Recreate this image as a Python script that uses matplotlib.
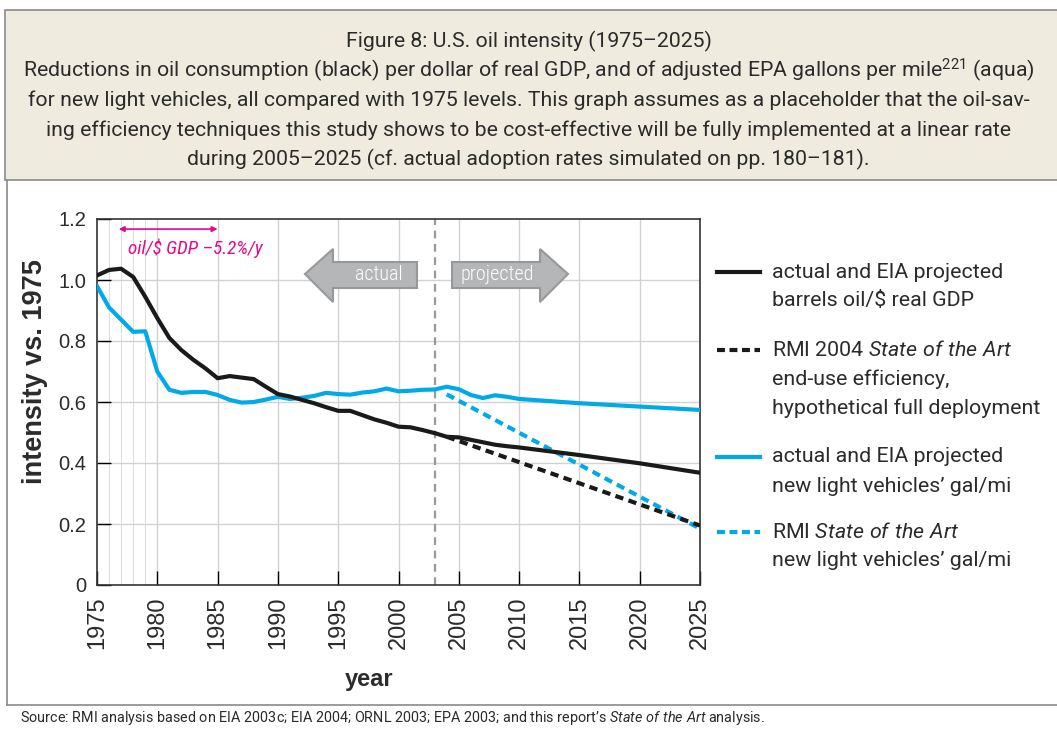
import numpy as np
import matplotlib
matplotlib.use("Agg")
import matplotlib.pyplot as plt
from matplotlib.lines import Line2D
from matplotlib.patches import Rectangle, Polygon

# ---- data ----
years = [1975, 1976, 1977, 1978, 1979, 1980, 1981, 1982, 1983, 1984,
         1985, 1986, 1987, 1988, 1989, 1990, 1991, 1992, 1993, 1994,
         1995, 1996, 1997, 1998, 1999, 2000, 2001, 2002, 2003, 2004,
         2005, 2006, 2007, 2008, 2009, 2010, 2015, 2020, 2025]

oil_per_gdp = [1.015, 1.033, 1.037, 1.010, 0.945, 0.875, 0.810, 0.770, 0.738, 0.710,
               0.678, 0.685, 0.680, 0.675, 0.650, 0.626, 0.618, 0.607, 0.596, 0.583,
               0.571, 0.571, 0.557, 0.543, 0.532, 0.519, 0.517, 0.508, 0.498, 0.486,
               0.484, 0.476, 0.468, 0.460, 0.455, 0.451, 0.426, 0.399, 0.368]

gal_per_mile = [0.980, 0.910, 0.870, 0.830, 0.832, 0.700, 0.640, 0.630, 0.633, 0.633,
                0.623, 0.607, 0.598, 0.600, 0.608, 0.617, 0.610, 0.614, 0.620, 0.630,
                0.626, 0.624, 0.631, 0.635, 0.644, 0.635, 0.637, 0.640, 0.641, 0.650,
                0.642, 0.623, 0.613, 0.622, 0.617, 0.610, 0.596, 0.585, 0.574]

rmi_years = [2004, 2025]
rmi_oil = [0.486, 0.195]
rmi_gal = [0.625, 0.185]

split_year = 2003
rate_span = [1976.8, 1985]

BLACK = "#1a1a1a"
AQUA = "#00a9e8"
PINK = "#e8068a"
TXT = "#2b2b2b"
ROB = ["Roboto", "DejaVu Sans"]
COND = ["Roboto Condensed", "DejaVu Sans"]

plt.rcParams["mathtext.fontset"] = "custom"
plt.rcParams["mathtext.rm"] = "Roboto"
plt.rcParams["mathtext.it"] = "Roboto:italic"
plt.rcParams["font.family"] = ["Liberation Sans", "DejaVu Sans"]

W, H = 1057, 730
fig = plt.figure(figsize=(W / 100, H / 100), dpi=100)

def fx(px):
    return px / W

def fy(py):
    return 1 - py / H

# ---- header box and frame ----
fig.patches.append(Rectangle((fx(5), fy(180)), 1.0, fy(10) - fy(180),
                             transform=fig.transFigure, facecolor="#efecdf",
                             edgecolor="#8a8a8a", lw=1.2, zorder=0))
fig.add_artist(Line2D([fx(7), fx(7)], [fy(180), fy(705)], color="#8a8a8a", lw=1.2))
fig.add_artist(Line2D([fx(7), 1.0], [fy(705), fy(705)], color="#8a8a8a", lw=1.2))

title_lines = [
    "Figure 8: U.S. oil intensity (1975–2025)",
    "Reductions in oil consumption (black) per dollar of real GDP, and of adjusted EPA gallons per mile$^{221}$ (aqua)",
    "for new light vehicles, all compared with 1975 levels. This graph assumes as a placeholder that the oil-sav-",
    "ing efficiency techniques this study shows to be cost-effective will be fully implemented at a linear rate",
    "during 2005–2025 (cf. actual adoption rates simulated on pp. 180–181).",
]
for i, line in enumerate(title_lines):
    fig.text(0.5, fy(41 + i * 29.7), line, ha="center", va="center",
             fontsize=15.3, color=TXT, family=ROB)

fig.text(fx(20), fy(718),
         r"Source: RMI analysis based on EIA 2003c; EIA 2004; ORNL 2003; EPA 2003; and this report’s $\it{State\ of\ the\ Art}$ analysis.",
         ha="left", va="center", fontsize=10.35, color=TXT, family=ROB)

# ---- axes ----
ax = fig.add_axes([fx(97), fy(585), fx(700) - fx(97), fy(219) - fy(585)])
ax.set_xlim(1975, 2025)
ax.set_ylim(0, 1.2)

ax.set_xticks(np.arange(1975, 2026, 5))
ax.set_yticks(np.arange(0, 1.21, 0.2))
ax.set_yticklabels(["0", "0.2", "0.4", "0.6", "0.8", "1.0", "1.2"])
ax.tick_params(direction="in", length=10, width=1, color="black", labelcolor=TXT)
ax.tick_params(axis="x", rotation=90, pad=8, labelsize=17)
ax.tick_params(axis="y", pad=8, labelsize=14.5)

for x in np.arange(1980, 2025, 5):
    ax.axvline(x, color="#d2d2d2", lw=1, zorder=0)
for x in range(1976, 1980):
    ax.axvline(x, color="#dddddd", lw=0.7, zorder=0)
for y in np.arange(0.2, 1.2, 0.2):
    ax.axhline(y, color="#d2d2d2", lw=1, zorder=0)

for s in ax.spines.values():
    s.set_color("#333333")
    s.set_linewidth(1.2)

ax.axvline(split_year, color="#999999", lw=1.6, dashes=(3.5, 2.5), zorder=1)

ax.plot(years, gal_per_mile, color=AQUA, lw=3, solid_joinstyle="round", zorder=3)
ax.plot(years, oil_per_gdp, color=BLACK, lw=3, solid_joinstyle="round", zorder=4)
ax.plot(rmi_years, rmi_gal, color=AQUA, lw=3, dashes=(2, 1.3), zorder=3)
ax.plot(rmi_years, rmi_oil, color=BLACK, lw=3, dashes=(2, 1.3), zorder=4)

ax.set_xlabel("year", fontsize=17, fontweight="bold", color=TXT)
ax.xaxis.set_label_coords((369 - 97) / 603, (585 - 668) / 366)
ax.set_ylabel("intensity vs. 1975", fontsize=19.5, fontweight="bold", color=TXT)
ax.yaxis.set_label_coords((48 - 97) / 603, (585 - 372) / 366)

# pink rate annotation
ax.annotate("", xy=(rate_span[1], 1.167), xytext=(rate_span[0], 1.167),
            arrowprops=dict(arrowstyle="<|-|>", color=PINK, lw=1.2,
                            mutation_scale=8, shrinkA=0, shrinkB=0))
ax.text(1977.6, 1.105, "oil/\\$ GDP –5.2%/y", color=PINK, fontsize=13.8,
        style="italic", ha="left", va="center", family=COND)

# gray direction arrows (axes fraction coordinates)
def axx(px):
    return (px - 97) / 603

def axy(py):
    return (585 - py) / 366

yc, bt, bb, ht, hb = axy(274), axy(262), axy(288), axy(249), axy(302)
left_arrow = [(axx(305), yc), (axx(333), ht), (axx(333), bt), (axx(417), bt),
              (axx(417), bb), (axx(333), bb), (axx(333), hb)]
right_arrow = [(axx(568), yc), (axx(540), ht), (axx(540), bt), (axx(452), bt),
               (axx(452), bb), (axx(540), bb), (axx(540), hb)]
for pts in (left_arrow, right_arrow):
    ax.add_patch(Polygon(pts, closed=True, transform=ax.transAxes,
                         facecolor="#b5b6b8", edgecolor="#97989a", lw=1.5, zorder=5))
ax.text(axx(379), yc, "actual", transform=ax.transAxes, ha="center", va="center",
        color="white", fontsize=14.5, family=COND, fontweight="light", zorder=6)
ax.text(axx(497), yc, "projected", transform=ax.transAxes, ha="center", va="center",
        color="white", fontsize=14.5, family=COND, fontweight="light", zorder=6)

# ---- legend (drawn beside the plot) ----
legend_items = [
    (BLACK, "-", ["actual and EIA projected", "barrels oil/\\$ real GDP"], 272),
    (BLACK, "--", [r"RMI 2004 $\it{State\ of\ the\ Art}$", "end-use efficiency,",
                   "hypothetical full deployment"], 350),
    (AQUA, "-", ["actual and EIA projected", "new light vehicles’ gal/mi"], 457),
    (AQUA, "--", [r"RMI $\it{State\ of\ the\ Art}$", "new light vehicles’ gal/mi"], 532),
]
for color, style, lines, ypx in legend_items:
    kw = dict(dashes=(1.9, 1.1)) if style == "--" else {}
    fig.add_artist(Line2D([fx(717), fx(760)], [fy(ypx), fy(ypx)], color=color,
                          lw=3, **kw))
    for j, t in enumerate(lines):
        fig.text(fx(772), fy(ypx + j * 29), t, ha="left", va="center",
                 fontsize=15.4, color=TXT, family=ROB)

fig.savefig("out.png", dpi=100)
